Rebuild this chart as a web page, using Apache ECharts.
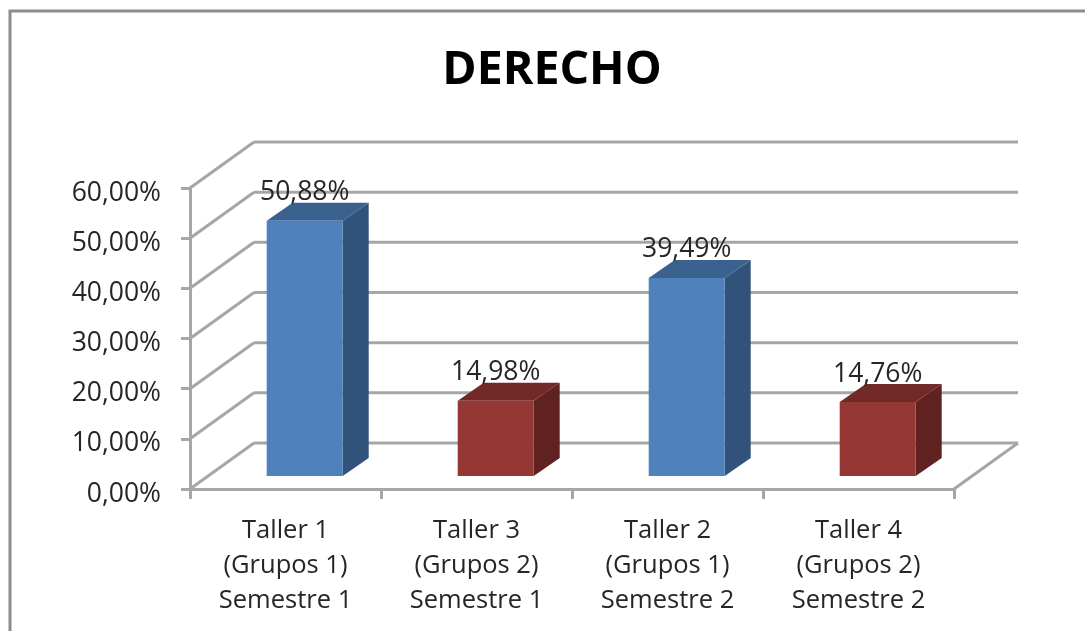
<!DOCTYPE html>
<html><head><meta charset="utf-8">
<style>html,body{margin:0;padding:0;background:#fff}#c{width:1085px;height:631px}</style>
<script src="https://cdn.jsdelivr.net/npm/echarts@6/dist/echarts.min.js"></script>
</head><body><div id="c"></div>
<script>
const chartTitle = 'DERECHO';
const categories = ['Taller 1\n(Grupos 1)\nSemestre 1','Taller 3\n(Grupos 2)\nSemestre 1','Taller 2\n(Grupos 1)\nSemestre 2','Taller 4\n(Grupos 2)\nSemestre 2'];
const values = [50.88, 14.98, 39.49, 14.76];
const barFront = ['#4f81bd','#953735','#4f81bd','#953735'];
const barTop = ['#3b618f','#712a28','#3b618f','#712a28'];
const barSide = ['#31527a','#5f2220','#31527a','#5f2220'];
const yTicks = [0,10,20,30,40,50,60];
const FONT = '"Open Sans"';
const GRID = '#a6a6a6';
const chart = echarts.init(document.getElementById('c'), null, {renderer:'canvas'});
const fmt = v => v.toFixed(2).replace('.', ',') + '%';

function wallItem(params, api){
  const v = api.value(0);
  const half = api.size([1,0])[0]/2;
  const L = api.coord([0,v]); const R = api.coord([3,v]);
  const x0 = L[0]-half, x1 = R[0]+half, y = L[1];
  const dx = 64, dy = -46;
  const line = (a,b,c,d)=>({type:'line',shape:{x1:a,y1:b,x2:c,y2:d},style:{stroke:GRID,lineWidth:3}});
  const kids = [line(x0,y,x0+dx,y+dy), line(x0+dx,y+dy,x1+dx,y+dy)];
  if(v===0) kids.push(line(x1,y,x1+dx,y+dy));
  return {type:'group',children:kids};
}
function barItem(params, api){
  const i = api.value(0), v = api.value(1);
  const top = api.coord([i,v]), base = api.coord([i,0]);
  const sx = 19.2, sy = -13, w = 76, dx = 26, dy = -18;
  const l = top[0]+sx-w/2, r = l+w, t = top[1]+sy, b = base[1]+sy;
  return {type:'group',children:[
    {type:'polygon',shape:{points:[[r,t],[r+dx,t+dy],[r+dx,b+dy],[r,b]]},style:{fill:barSide[i]}},
    {type:'polygon',shape:{points:[[l,t],[l+dx,t+dy],[r+dx,t+dy],[r,t]]},style:{fill:barTop[i]}},
    {type:'rect',shape:{x:l,y:t,width:w,height:b-t},style:{fill:barFront[i]}},
    {type:'text',style:{x:l+w/2,y:t+dy-10,text:fmt(v),fill:'#262626',font:'26.5px '+FONT,align:'center',verticalAlign:'middle'},z2:10}
  ]};
}
chart.setOption({
  animation:false,
  backgroundColor:'#fff',
  title:{text:chartTitle,left:547,top:42,textAlign:'center',textStyle:{fontFamily:FONT,fontSize:46.5,fontWeight:'bold',color:'#000'}},
  grid:{left:190,right:131,top:188,bottom:142,containLabel:false},
  xAxis:{type:'category',data:categories,
    axisLine:{lineStyle:{color:GRID,width:3}},
    axisTick:{show:true,length:10,lineStyle:{color:GRID,width:3}},
    axisLabel:{margin:24,interval:0,fontFamily:FONT,fontSize:25.5,lineHeight:35,color:'#262626'}},
  yAxis:{type:'value',min:0,max:60,interval:10,
    axisLine:{show:true,lineStyle:{color:GRID,width:3}},
    axisTick:{show:true,length:9,lineStyle:{color:GRID,width:3}},
    splitLine:{show:false},
    axisLabel:{margin:29,padding:[5,0,0,0],verticalAlign:'top',lineHeight:0,fontFamily:FONT,fontSize:26.5,color:'#262626',formatter:v=>v.toFixed(2).replace('.',',')+'%'}},
  series:[
    {type:'custom',coordinateSystem:'cartesian2d',renderItem:wallItem,data:yTicks.map(v=>[v]),encode:{y:0},silent:true,z:1,clip:false},
    {type:'custom',coordinateSystem:'cartesian2d',renderItem:barItem,data:values.map((v,i)=>[i,v]),encode:{x:0,y:1},z:3,clip:false}
  ],
  graphic:[{type:'polyline',shape:{points:[[10,631],[10,11],[1085,11]]},style:{stroke:'#8c8c8c',lineWidth:3,fill:null},silent:true}]
});
</script></body></html>
